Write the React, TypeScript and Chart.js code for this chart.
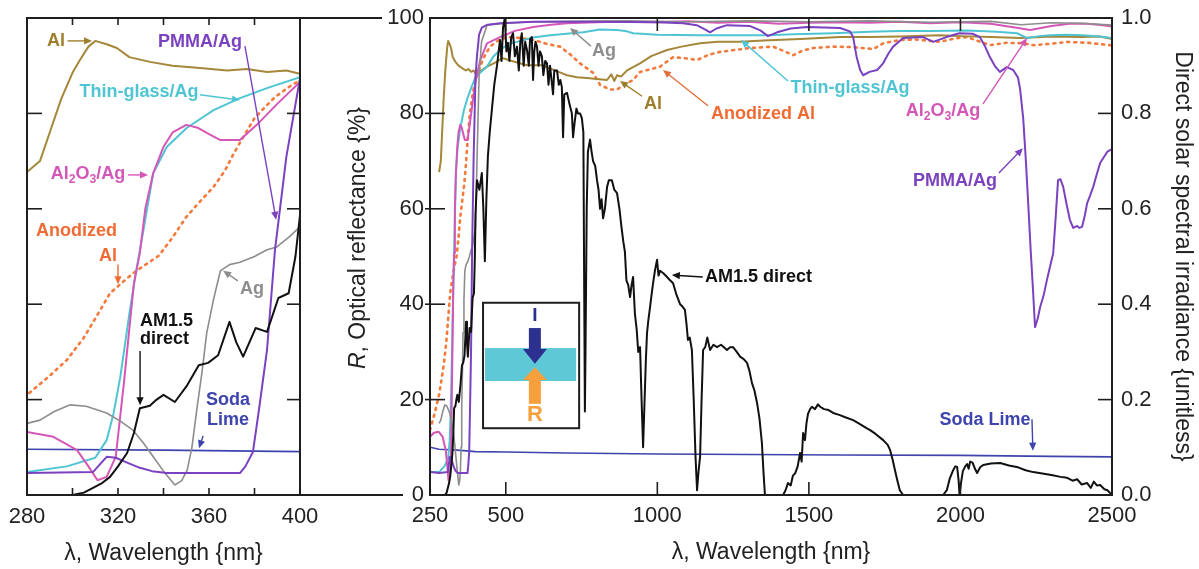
import React, { useEffect, useRef } from "react";
import { Chart, registerables } from "chart.js";

Chart.register(...registerables);

type Pt = [number, number];

// ---- Reflectance spectra: [wavelength nm, R %] ----
const alR: Pt[] = [
  [280, 67.7], [285.7, 70], [290, 76], [295, 83], [300, 88.5], [303, 91], [307, 94], [310, 95.2],
  [315, 94.5], [319.5, 93.7], [325, 91.8], [334, 90.8], [344, 90], [356, 89.5], [368, 89],
  [376.7, 89.3], [385.5, 88.7], [394, 89], [400, 88.3], [408, 88.5], [438, 89.8], [470, 90.8],
  [488, 91.6], [520, 91], [570, 90.1], [620, 90.1], [670, 88.8], [702, 88], [735, 87.6],
  [768, 87.4], [800, 87.2], [834, 87], [848, 88.2], [858, 86.8], [867, 88], [880, 87.7],
  [900, 89], [943, 90.5], [980, 92], [1032, 93.3], [1080, 94], [1141, 94.7], [1200, 95],
  [1273, 95], [1350, 95.3], [1471, 95.6], [1603, 96], [1700, 96], [1800, 96.1], [1933, 96.4],
  [2000, 96.2], [2100, 96], [2200, 95.8], [2300, 96.1], [2400, 96], [2460, 96.1], [2500, 95.6],
];

const anodizedAlR: Pt[] = [
  [250, 13.6], [265, 17], [280, 21], [290, 25], [297.5, 28.3], [305, 33], [310, 37],
  [316.5, 42.3], [326.6, 46.5], [338, 50.2], [344, 54], [350, 58.3], [356, 61.5], [362, 64.6],
  [367, 68], [371, 71.7], [375, 75], [380, 79], [385, 81.5], [389, 83.4], [395, 85.5],
  [400, 87], [415, 89.8], [430, 92], [448, 94], [475, 95.3], [504, 96], [550, 95.8],
  [590, 95.4], [640, 94.5], [679, 94], [710, 92.5], [745, 90.5], [788, 88.5], [811, 86],
  [844, 85], [867, 85], [890, 86], [920, 87], [943, 88.7], [1009, 89.8], [1052, 91.8],
  [1100, 91.5], [1131, 91.2], [1170, 92.3], [1207, 92.9], [1306, 93.7], [1382, 94],
  [1420, 93], [1448, 92.2], [1480, 93.2], [1514, 93.7], [1580, 94], [1640, 93.9],
  [1712, 93.5], [1745, 94.7], [1800, 95.4], [1850, 95.5], [1933, 95], [1980, 95.7],
  [2022, 96], [2097, 94.3], [2150, 94.8], [2207, 94.7], [2240, 94.3], [2300, 94.6],
  [2352, 95], [2420, 94.8], [2494, 94.3], [2500, 94.2],
];

const thinGlassAgR: Pt[] = [
  [250, 4.8], [280, 4.8], [297.5, 6], [310, 7.8], [315, 11.5], [318, 17], [321, 24.7],
  [325, 38], [328, 47], [331, 55], [335.5, 67.5], [341.5, 73], [350.3, 77], [362, 80.7],
  [373.6, 83.2], [385.5, 85.3], [400, 87.6], [420, 88.8], [438, 89.8], [460, 92], [481, 93.3],
  [510, 94.6], [537, 95], [590, 95.9], [646, 96.4], [700, 96.7], [755, 97], [811, 97.6],
  [867, 97.5], [900, 97.2], [920, 96.8], [1000, 96.5], [1141, 96.4], [1250, 96.4],
  [1362, 96.4], [1450, 96.6], [1580, 96.8], [1700, 97.1], [1800, 97.3], [1900, 97.3],
  [2022, 97.4], [2120, 97.1], [2187, 96.8], [2220, 95.8], [2260, 96.2], [2295, 96.4],
  [2350, 96.5], [2405, 96.4], [2460, 96.1], [2500, 95.8],
];

const al2o3AgR: Pt[] = [
  [250, 12.2], [262, 13], [273, 13.2], [280, 13.2], [291.6, 12.2], [302, 9.4], [307, 6],
  [311, 3.1], [315, 3.8], [319, 8], [322.6, 23.5], [327, 44.4], [329.6, 50.7], [332, 60],
  [335.5, 67.5], [340, 73], [344, 76], [350, 77.6], [355, 77], [359, 75.9], [365, 74.4],
  [373.6, 74.4], [381, 77.6], [390, 82], [400, 86.6], [415, 91], [438, 94.7], [481, 96],
  [530, 97.3], [590, 98.1], [650, 98.6], [702, 98.9], [800, 99.1], [867, 99.2], [1000, 99.1],
  [1100, 99.3], [1200, 99], [1300, 99.2], [1400, 98.8], [1500, 99], [1600, 99.1], [1700, 99],
  [1800, 99.2], [1900, 98.9], [2000, 99.1], [2100, 98.8], [2180, 98], [2230, 97.5],
  [2300, 98.3], [2360, 98.8], [2420, 98.8], [2470, 98.5], [2500, 98.2],
];

const agR: Pt[] = [
  [280, 15], [285.7, 15.7], [292, 17.5], [299, 18.9], [306, 18.6], [315, 17.2], [321, 15.5],
  [326.6, 13.6], [331, 11], [335.5, 8], [340, 5], [345, 2.1], [348, 3], [350.4, 5.2],
  [352.5, 10], [354.6, 17.8], [357, 26], [359, 34], [362, 41], [365, 47], [369, 48.3],
  [373.6, 48.8], [380, 50], [385.5, 51.4], [389.8, 52], [395, 54], [400, 56.2], [405, 70],
  [412, 88], [420, 95], [438, 98.5], [500, 98.9], [590, 99.2], [700, 99.3], [900, 99.4],
  [1100, 99.2], [1300, 99.4], [1500, 99.2], [1700, 99.4], [1900, 99.1], [2100, 99.3],
  [2200, 98.6], [2300, 99], [2400, 98.9], [2500, 98.5],
];

const pmmaAgR: Pt[] = [
  [250, 4.8], [280, 4.6], [309, 4.8], [315, 8], [319, 7.8], [324, 6.8], [329.6, 5.7],
  [335, 5], [341.5, 4.6], [360, 4.6], [373.6, 4.6], [376, 6], [379.3, 9], [382, 18],
  [385.5, 30.4], [389, 51.4], [394, 70.9], [400, 87.4], [405, 92], [412, 96.5], [421, 98],
  [440, 98.6], [481, 98.9], [590, 99.2], [811, 99.2], [1000, 99.1], [1085, 98.9],
  [1130, 98.5], [1160, 97.5], [1174, 97], [1195, 97.8], [1230, 98.5], [1306, 98.3],
  [1340, 97.4], [1365, 96.2], [1395, 97], [1440, 97.8], [1494, 98.1], [1603, 97.9],
  [1635, 97.2], [1646, 96], [1657, 92], [1669, 89.1], [1679, 88], [1700, 88.7],
  [1725, 89.1], [1745, 90.5], [1762, 92.5], [1778, 94], [1811, 95.8], [1877, 96],
  [1910, 95], [1954, 96], [1996, 96.8], [2040, 96.7], [2064, 96], [2080, 94.2],
  [2097, 91.8], [2115, 89.8], [2130, 88.7], [2153, 89.7], [2174, 89.1], [2190, 87.5],
  [2197, 85], [2207, 79], [2215, 71], [2223, 61.8], [2232, 51], [2240, 42.3], [2246, 35.2],
  [2255, 37], [2263, 39.4], [2275, 42], [2285, 45], [2296, 48], [2306, 50.7], [2314, 58],
  [2322, 66], [2330, 66.2], [2339, 64.6], [2350, 61], [2361, 57.7], [2372, 56], [2385, 56.4],
  [2392, 56], [2401, 56.2], [2410, 58.5], [2418, 61.2], [2428, 62.8], [2438, 64.6],
  [2450, 67.3], [2461, 69.6], [2475, 71], [2485, 72], [2494, 72.3], [2500, 72.5],
];

const sodaLimeR: Pt[] = [
  [250, 10], [280, 9.6], [340, 9.4], [400, 9.1], [500, 9], [700, 8.8], [1000, 8.6],
  [1300, 8.5], [1600, 8.4], [2000, 8.3], [2300, 8.1], [2500, 8],
];

// ---- AM1.5 direct solar spectral irradiance, normalized (right axis) ----
const am15Direct: Pt[] = [
  [295, 0], [300, 0], [305, 0.005], [309, 0.015], [313, 0.025], [316.5, 0.038], [320, 0.06],
  [324, 0.088], [327, 0.13], [329.6, 0.182], [334, 0.187], [337, 0.2], [340, 0.21],
  [345, 0.195], [350.4, 0.23], [355.5, 0.272], [359.6, 0.277], [364, 0.293], [369, 0.363],
  [372, 0.32], [375, 0.29], [380.5, 0.35], [385.5, 0.342], [390.5, 0.413], [395, 0.423],
  [398, 0.5], [400, 0.587], [405, 0.66], [413, 0.64], [421, 0.675], [426, 0.6], [431, 0.49],
  [436, 0.62], [441, 0.71], [447, 0.76], [454, 0.807], [462, 0.86], [471, 0.9], [481, 0.954],
  [486, 0.91], [491, 0.98], [497, 1.0], [502, 0.93], [507, 0.948], [512, 0.91], [518, 0.96],
  [524, 0.968], [530, 0.92], [537, 0.94], [543, 0.89], [548, 0.95], [553, 0.968], [559, 0.9],
  [564, 0.95], [570, 0.933], [576, 0.9], [580, 0.955], [586, 0.96], [590, 0.87], [594, 0.93],
  [598, 0.95], [603, 0.94], [608, 0.9], [613, 0.93], [619, 0.92], [624, 0.88], [630, 0.91],
  [636, 0.905], [641, 0.86], [646, 0.9], [652, 0.864], [656, 0.84], [660, 0.89], [669, 0.89],
  [675, 0.86], [680, 0.87], [685, 0.855], [689, 0.75], [693, 0.84], [702, 0.843], [710, 0.82],
  [718, 0.8], [722, 0.75], [727, 0.78], [733, 0.81], [738, 0.8], [745, 0.8], [751, 0.79],
  [756, 0.76], [759, 0.4], [761, 0.175], [763, 0.3], [767, 0.6], [771, 0.72], [778, 0.745],
  [783, 0.72], [788, 0.7], [795, 0.69], [801, 0.66], [806, 0.64], [811, 0.6], [816, 0.62],
  [821, 0.58], [827, 0.6], [834, 0.645], [840, 0.66], [850, 0.66], [858, 0.64], [867, 0.633],
  [875, 0.6], [882, 0.56], [888, 0.53], [893, 0.51], [898, 0.45], [904, 0.44], [910, 0.415],
  [915, 0.44], [920, 0.457], [926, 0.38], [932, 0.346], [937, 0.3], [943, 0.31], [948, 0.2],
  [953, 0.1], [958, 0.2], [962, 0.28], [966, 0.34], [971, 0.37], [976, 0.394], [981, 0.42],
  [986, 0.444], [992, 0.47], [999, 0.493], [1004, 0.46], [1009, 0.47], [1020, 0.465],
  [1032, 0.457], [1042, 0.45], [1052, 0.444], [1063, 0.42], [1075, 0.4], [1083, 0.395],
  [1091, 0.388], [1096, 0.36], [1101, 0.325], [1107, 0.33], [1114, 0.304], [1120, 0.2],
  [1126, 0.08], [1131, 0.01], [1136, 0.05], [1141, 0.08], [1146, 0.2], [1151, 0.304],
  [1158, 0.31], [1165, 0.33], [1174, 0.304], [1185, 0.315], [1197, 0.31], [1210, 0.315],
  [1230, 0.304], [1240, 0.31], [1250, 0.31], [1262, 0.3], [1273, 0.29], [1285, 0.285],
  [1296, 0.277], [1304, 0.26], [1312, 0.235], [1320, 0.22], [1329, 0.193], [1337, 0.16],
  [1345, 0.109], [1350, 0.05], [1355, 0], [1415, 0], [1423, 0.01], [1431, 0.025], [1440, 0.02],
  [1447, 0.04], [1455, 0.046], [1463, 0.06], [1471, 0.088], [1476, 0.07], [1481, 0.13],
  [1487, 0.115], [1492, 0.15], [1497, 0.17], [1504, 0.18], [1510, 0.185], [1520, 0.18],
  [1530, 0.19], [1537, 0.185], [1550, 0.18], [1565, 0.178], [1580, 0.172], [1600, 0.168],
  [1620, 0.163], [1646, 0.157], [1670, 0.148], [1690, 0.14], [1702, 0.136], [1720, 0.128],
  [1745, 0.115], [1760, 0.105], [1768, 0.094], [1776, 0.075], [1784, 0.052], [1792, 0.03],
  [1800, 0.01], [1811, 0], [1943, 0], [1955, 0.01], [1965, 0.035], [1976, 0.052], [1983, 0.06],
  [1989, 0.059], [1994, 0.03], [1997, 0], [2003, 0.03], [2008, 0.05], [2015, 0.059],
  [2022, 0.065], [2027, 0.055], [2032, 0.07], [2040, 0.068], [2048, 0.055], [2055, 0.046],
  [2065, 0.058], [2075, 0.063], [2100, 0.066], [2131, 0.067], [2160, 0.062], [2190, 0.058],
  [2215, 0.052], [2240, 0.048], [2270, 0.045], [2300, 0.042], [2330, 0.038], [2352, 0.036],
  [2370, 0.03], [2385, 0.033], [2400, 0.022], [2418, 0.025], [2430, 0.015], [2440, 0.028],
  [2450, 0.02], [2461, 0.021], [2475, 0.012], [2485, 0.01], [2494, 0.004], [2500, 0],
];

// ---- Axis ticks ----
const uvTickMarks = [300, 320, 340, 360, 380];
const uvTickLabels = [280, 320, 360, 400];
const fullTickMarks = [500, 1000, 1500, 2000];
const fullTickLabels = [250, 500, 1000, 1500, 2000, 2500];
const reflTicks = [0, 20, 40, 60, 80, 100];
const irrTicks = [0, 0.2, 0.4, 0.6, 0.8, 1.0];

const FONT = "Arial, 'Liberation Sans', Helvetica, sans-serif";

const C = {
  al: "#a5873a",
  alText: "#9e7f2e",
  pmma: "#7b42bf",
  thin: "#4fc5d3",
  al2o3: "#d457b8",
  anod: "#f27a3c",
  anodText: "#f06c34",
  anodArrow: "#e0703a",
  ag: "#8d8d8d",
  soda: "#3e44ae",
  am: "#111111",
  frame: "#1e1e1e",
};

type Seg = { t: string; sub?: boolean; italic?: boolean };
type Note = {
  text: Seg[];
  at: Pt; // [nm, R%] anchor for the text
  color: string;
  align?: "center" | "left" | "right";
  arrow?: [Pt, Pt];
  arrowColor?: string;
};

const al2o3Label: Seg[] = [{ t: "Al" }, { t: "2", sub: true }, { t: "O" }, { t: "3", sub: true }, { t: "/Ag" }];

// Callouts in the 280-400 nm panel
const uvNotes: Note[] = [
  { text: [{ t: "Al" }], at: [292.7, 95.2], color: C.alText, arrow: [[297.8, 95.2], [308.6, 95.2]] },
  { text: [{ t: "PMMA/Ag" }], at: [356, 95], color: C.pmma, arrow: [[375.8, 94.1], [389.5, 57.7]] },
  { text: [{ t: "Thin-glass/Ag" }], at: [329.2, 84.5], color: C.thin, arrow: [[356, 83.9], [373.6, 82.8]] },
  { text: al2o3Label, at: [306.8, 67.3], color: C.al2o3, arrow: [[324.4, 67.1], [333.2, 67.1]] },
  { text: [{ t: "Anodized" }], at: [319.6, 55.3], color: C.anodText, align: "right" },
  { text: [{ t: "Al" }], at: [319.6, 50.1], color: C.anodText, align: "right", arrow: [[320, 48.3], [320, 44.2]] },
  { text: [{ t: "Ag" }], at: [378.9, 43.2], color: C.ag, arrow: [[372.7, 44.9], [366.2, 47]] },
  { text: [{ t: "AM1.5" }], at: [329.7, 36.5], color: C.am, align: "left" },
  { text: [{ t: "direct" }], at: [329.7, 32.6], color: C.am, align: "left", arrow: [[329.7, 30.2], [329.7, 18.8]] },
  { text: [{ t: "Soda" }], at: [368.4, 20], color: C.soda },
  { text: [{ t: "Lime" }], at: [368.4, 15.7], color: C.soda, arrow: [[357.4, 12.4], [355.6, 9.8]] },
];

// Callouts in the 250-2500 nm panel
const fullNotes: Note[] = [
  { text: [{ t: "Ag" }], at: [824, 93.1], color: C.ag, arrow: [[781, 94.1], [712, 97.9]] },
  { text: [{ t: "Al" }], at: [985.7, 82], color: C.alText, arrow: [[949.4, 83.6], [877, 86.8]] },
  { text: [{ t: "Anodized Al" }], at: [1348.6, 79.9], color: C.anodText, arrow: [[1167, 81.6], [1018.7, 89.1]], arrowColor: C.anodArrow },
  { text: [{ t: "Thin-glass/Ag" }], at: [1635.7, 85.3], color: C.thin, arrow: [[1431, 86.8], [1276, 95.4]] },
  { text: al2o3Label, at: [1942.5, 80.5], color: C.al2o3, arrow: [[2074.5, 82], [2219.6, 95.8]] },
  { text: [{ t: "PMMA/Ag" }], at: [1982, 65.8], color: C.pmma, arrow: [[2127, 67.5], [2206, 72.7]] },
  { text: [{ t: "AM1.5 direct" }], at: [1157, 45.7], color: C.am, align: "left", arrow: [[1150, 45.7], [1048, 46.1]] },
  { text: [{ t: "Soda Lime" }], at: [2081, 15.7], color: C.soda, arrow: [[2236, 15.9], [2239, 9.3]] },
];

const TICK_FONT = 22;
const TITLE_FONT = 23;
const NOTE_FONT = 18;

function fontFor(size: number, bold: boolean, italic?: boolean) {
  return `${italic ? "italic " : ""}${bold ? "bold " : ""}${size}px ${FONT}`;
}

function drawRich(
  ctx: CanvasRenderingContext2D,
  segs: Seg[],
  x: number,
  y: number,
  size: number,
  bold: boolean,
  color: string,
  align: "center" | "left" | "right"
) {
  const parts = segs.map((s) => {
    const sz = s.sub ? size * 0.68 : size;
    ctx.font = fontFor(sz, bold, s.italic);
    return { s, sz, w: ctx.measureText(s.t).width };
  });
  const total = parts.reduce((acc, p) => acc + p.w, 0);
  let cx = align === "center" ? x - total / 2 : align === "right" ? x - total : x;
  ctx.fillStyle = color;
  ctx.textBaseline = "middle";
  ctx.textAlign = "left";
  for (const p of parts) {
    ctx.font = fontFor(p.sz, bold, p.s.italic);
    ctx.fillText(p.s.t, cx, y + (p.s.sub ? size * 0.3 : 0));
    cx += p.w;
  }
}

function drawArrow(ctx: CanvasRenderingContext2D, x1: number, y1: number, x2: number, y2: number, color: string) {
  const ang = Math.atan2(y2 - y1, x2 - x1);
  const head = 8;
  const half = 3.6;
  ctx.save();
  ctx.strokeStyle = color;
  ctx.fillStyle = color;
  ctx.lineWidth = 1.4;
  ctx.beginPath();
  ctx.moveTo(x1, y1);
  ctx.lineTo(x2 - Math.cos(ang) * head * 0.8, y2 - Math.sin(ang) * head * 0.8);
  ctx.stroke();
  ctx.beginPath();
  ctx.moveTo(x2, y2);
  ctx.lineTo(x2 - Math.cos(ang) * head + Math.sin(ang) * half, y2 - Math.sin(ang) * head - Math.cos(ang) * half);
  ctx.lineTo(x2 - Math.cos(ang) * head - Math.sin(ang) * half, y2 - Math.sin(ang) * head + Math.cos(ang) * half);
  ctx.closePath();
  ctx.fill();
  ctx.restore();
}

function drawNotes(chart: any, notes: Note[]) {
  const { ctx, scales } = chart;
  const px = (v: number) => scales.x.getPixelForValue(v);
  const py = (v: number) => scales.y.getPixelForValue(v);
  for (const n of notes) {
    drawRich(ctx, n.text, px(n.at[0]), py(n.at[1]), NOTE_FONT, true, n.color, n.align ?? "center");
    if (n.arrow) {
      const [a, b] = n.arrow;
      drawArrow(ctx, px(a[0]), py(a[1]), px(b[0]), py(b[1]), n.arrowColor ?? n.color);
    }
  }
}

function line(ctx: CanvasRenderingContext2D, x1: number, y1: number, x2: number, y2: number) {
  ctx.beginPath();
  ctx.moveTo(x1, y1);
  ctx.lineTo(x2, y2);
  ctx.stroke();
}

const wavelengthTitle = "\u03bb, Wavelength {nm}";

const uvFramePlugin = {
  id: "uvFrame",
  afterDatasetsDraw(chart: any) {
    const { ctx, chartArea: a, scales } = chart;
    ctx.save();
    ctx.strokeStyle = C.frame;
    ctx.lineWidth = 2;
    ctx.strokeRect(a.left, a.top, a.right - a.left, a.bottom - a.top);
    // frame edges continuing toward the main panel
    line(ctx, a.right, a.top, a.right + 82, a.top);
    line(ctx, a.right, a.bottom, a.right + 103, a.bottom);
    ctx.lineWidth = 1.6;
    for (const v of uvTickMarks) {
      const x = scales.x.getPixelForValue(v);
      line(ctx, x, a.bottom, x, a.bottom - 7);
      line(ctx, x, a.top, x, a.top + 7);
    }
    for (const v of reflTicks.slice(1, -1)) {
      const y = scales.y.getPixelForValue(v);
      line(ctx, a.left, y, a.left + 15, y);
      line(ctx, a.right, y, a.right - 13, y);
    }
    ctx.fillStyle = "#222";
    ctx.font = fontFor(TICK_FONT, false);
    ctx.textAlign = "center";
    ctx.textBaseline = "middle";
    for (const v of uvTickLabels) {
      ctx.fillText(String(v), scales.x.getPixelForValue(v), a.bottom + 22);
    }
    ctx.font = fontFor(TITLE_FONT, false);
    ctx.fillText(wavelengthTitle, (a.left + a.right) / 2, a.bottom + 59);
    drawNotes(chart, uvNotes);
    ctx.restore();
  },
};

const fullFramePlugin = {
  id: "fullFrame",
  afterDatasetsDraw(chart: any) {
    const { ctx, chartArea: a, scales } = chart;
    const px = (v: number) => scales.x.getPixelForValue(v);
    const py = (v: number) => scales.y.getPixelForValue(v);
    ctx.save();

    // inset: incident (I) and reflected (R) beams on a coated sheet
    const bl = px(425), br = px(742), bt = py(40.3), bb = py(14);
    ctx.fillStyle = "#ffffff";
    ctx.fillRect(bl, bt, br - bl, bb - bt);
    ctx.fillStyle = "#5ec8d6";
    ctx.fillRect(bl + 2, py(30.8), br - bl - 5, py(23.9) - py(30.8));
    const cx = px(596);
    ctx.fillStyle = "#2c3190";
    ctx.fillRect(cx - 6, py(35), 12, py(30.6) - py(35));
    ctx.beginPath();
    ctx.moveTo(cx - 12, py(30.6));
    ctx.lineTo(cx + 12, py(30.6));
    ctx.lineTo(cx, py(27.5));
    ctx.closePath();
    ctx.fill();
    ctx.fillStyle = "#f5a03c";
    ctx.fillRect(cx - 6, py(24.1), 12, py(19.1) - py(24.1));
    ctx.beginPath();
    ctx.moveTo(cx - 12, py(24.1));
    ctx.lineTo(cx + 12, py(24.1));
    ctx.lineTo(cx, py(26.8));
    ctx.closePath();
    ctx.fill();
    ctx.textAlign = "center";
    ctx.textBaseline = "middle";
    ctx.fillStyle = "#2c3190";
    ctx.font = fontFor(19, true);
    ctx.fillText("I", cx, py(37.5));
    ctx.fillStyle = "#f5a03c";
    ctx.font = fontFor(22, true);
    ctx.fillText("R", cx, py(16.8));
    ctx.strokeStyle = C.frame;
    ctx.lineWidth = 2;
    ctx.strokeRect(bl, bt, br - bl, bb - bt);

    // frame and ticks
    ctx.strokeRect(a.left, a.top, a.right - a.left, a.bottom - a.top);
    ctx.lineWidth = 1.6;
    for (const v of fullTickMarks) {
      const x = px(v);
      line(ctx, x, a.bottom, x, a.bottom - 13);
      line(ctx, x, a.top, x, a.top + 13);
    }
    for (const v of reflTicks.slice(1, -1)) {
      const y = py(v);
      line(ctx, a.left - 5, y, a.left + 15, y);
    }
    for (const v of irrTicks.slice(1, -1)) {
      const y = scales.y1.getPixelForValue(v);
      line(ctx, a.right - 14, y, a.right, y);
    }

    // tick labels
    ctx.fillStyle = "#222";
    ctx.font = fontFor(TICK_FONT, false);
    ctx.textBaseline = "middle";
    ctx.textAlign = "center";
    for (const v of fullTickLabels) ctx.fillText(String(v), px(v), a.bottom + 21);
    ctx.textAlign = "right";
    for (const v of reflTicks) ctx.fillText(String(v), a.left - 6, py(v));
    ctx.textAlign = "left";
    for (const v of irrTicks) ctx.fillText(v.toFixed(1), a.right + 9, scales.y1.getPixelForValue(v));

    // axis titles
    ctx.textAlign = "center";
    ctx.font = fontFor(TITLE_FONT, false);
    ctx.fillText(wavelengthTitle, (a.left + a.right) / 2, a.bottom + 58);

    ctx.save();
    ctx.translate(a.left - 71, 238);
    ctx.rotate(-Math.PI / 2);
    drawRich(ctx, [{ t: "R", italic: true }, { t: ", Optical reflectance {%}" }], 0, 0, TITLE_FONT, false, "#222", "center");
    ctx.restore();

    ctx.save();
    ctx.translate(a.right + 70, (a.top + a.bottom) / 2);
    ctx.rotate(Math.PI / 2);
    drawRich(ctx, [{ t: "Direct solar spectral irradiance {unitless}" }], 0, 0, TITLE_FONT, false, "#222", "center");
    ctx.restore();

    drawNotes(chart, fullNotes);
    ctx.restore();
  },
};

function toXY(arr: Pt[]) {
  return arr.map(([x, y]) => ({ x, y }));
}

function datasets() {
  const base = { pointRadius: 0, tension: 0, borderJoinStyle: "round" as const, fill: false };
  return [
    { ...base, label: "AM1.5 direct", data: toXY(am15Direct), borderColor: C.am, borderWidth: 2, yAxisID: "y1" },
    { ...base, label: "PMMA/Ag", data: toXY(pmmaAgR), borderColor: C.pmma, borderWidth: 2, yAxisID: "y" },
    { ...base, label: "Ag", data: toXY(agR), borderColor: C.ag, borderWidth: 1.6, yAxisID: "y" },
    { ...base, label: "Al2O3/Ag", data: toXY(al2o3AgR), borderColor: C.al2o3, borderWidth: 2, yAxisID: "y" },
    { ...base, label: "Thin-glass/Ag", data: toXY(thinGlassAgR), borderColor: C.thin, borderWidth: 2, yAxisID: "y" },
    { ...base, label: "Al", data: toXY(alR), borderColor: C.al, borderWidth: 2, yAxisID: "y" },
    {
      ...base,
      label: "Anodized Al",
      data: toXY(anodizedAlR),
      borderColor: C.anod,
      borderWidth: 2.6,
      borderDash: [2, 5],
      borderCapStyle: "round" as const,
      yAxisID: "y",
    },
    { ...base, label: "Soda Lime", data: toXY(sodaLimeR), borderColor: C.soda, borderWidth: 1.6, yAxisID: "y" },
  ];
}

function buildConfig(xMin: number, xMax: number, padding: any, plugin: any): any {
  return {
    type: "line",
    data: { datasets: datasets() },
    options: {
      responsive: false,
      animation: false,
      devicePixelRatio: 1,
      events: [],
      layout: { padding },
      plugins: { legend: { display: false }, tooltip: { enabled: false } },
      scales: {
        x: { type: "linear", min: xMin, max: xMax, display: false },
        y: { type: "linear", min: 0, max: 100, display: false },
        y1: { type: "linear", min: 0, max: 1, display: false },
      },
    },
    plugins: [plugin],
  };
}

export default function App() {
  const uvRef = useRef<HTMLCanvasElement>(null);
  const fullRef = useRef<HTMLCanvasElement>(null);

  useEffect(() => {
    const uv = new Chart(uvRef.current!, buildConfig(280, 400, { left: 27, right: 130, top: 18, bottom: 74 }, uvFramePlugin));
    const full = new Chart(fullRef.current!, buildConfig(250, 2500, { left: 130, right: 87, top: 18, bottom: 74 }, fullFramePlugin));
    return () => {
      uv.destroy();
      full.destroy();
    };
  }, []);

  return (
    <div style={{ position: "absolute", left: 0, top: 0, width: 1199, height: 569, background: "#ffffff" }}>
      <canvas ref={uvRef} width={430} height={569} style={{ position: "absolute", left: 0, top: 0, width: 430, height: 569 }} />
      <canvas ref={fullRef} width={899} height={569} style={{ position: "absolute", left: 300, top: 0, width: 899, height: 569 }} />
    </div>
  );
}
